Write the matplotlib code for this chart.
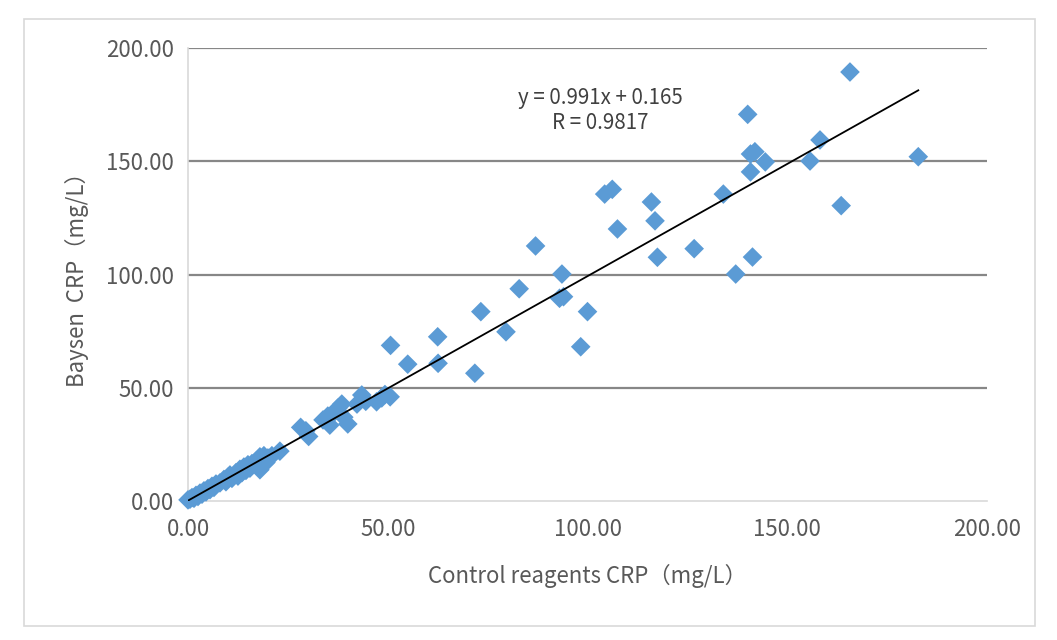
import matplotlib
matplotlib.use("Agg")
import matplotlib.pyplot as plt
from matplotlib.patches import Rectangle
import numpy as np

plt.rcParams['font.family'] = ['Noto Sans CJK SC', 'DejaVu Sans']

# Data (control reagent CRP vs Baysen CRP, mg/L)
control_crp = [
    0.0, 0.5, 1.0, 1.5, 2.0, 2.5, 3.0, 3.5, 4.0, 4.5, 5.0, 5.5, 6.0, 6.5, 7.0, 8.0,
    9.0, 9.5, 10.0, 10.5, 11.0, 12.0, 12.5, 13.0, 13.5, 14.0, 14.5, 15.0, 15.5, 16.0,
    17.0, 17.5, 18.0, 18.0, 18.5, 19.0, 19.5, 20.0, 21.0, 23.0,
    28.2, 29.5, 30.2, 33.8, 35.0, 35.5, 36.5, 37.5, 38.5, 39.0, 40.0, 42.3, 43.5,
    44.5, 47.2, 48.5, 49.3, 50.6,
    50.7, 55.0, 62.5, 62.6, 71.8, 73.3, 79.6, 82.9, 87.0, 93.0, 94.0, 93.6, 98.3,
    100.0, 104.3, 106.2, 107.5, 116.0, 116.9, 117.5, 126.7, 134.0, 137.1, 140.1,
    140.8, 141.9, 140.8, 141.3, 144.5, 155.7, 158.2, 163.5, 165.7, 182.8,
]
baysen_crp = [
    0.5, 0.8, 1.5, 1.2, 2.5, 2.0, 3.5, 3.0, 4.5, 4.0, 5.5, 5.0, 6.5, 6.0, 7.5, 8.0,
    9.5, 8.5, 10.5, 11.5, 10.0, 12.5, 11.0, 14.0, 12.5, 15.0, 13.5, 16.0, 14.5, 16.5,
    17.5, 16.0, 19.5, 13.8, 18.0, 20.0, 17.0, 19.0, 20.0, 22.0,
    32.5, 31.0, 28.5, 35.8, 37.5, 33.5, 39.0, 41.0, 42.8, 37.0, 34.0, 42.8, 46.8,
    44.0, 43.8, 45.5, 47.0, 46.0,
    68.7, 60.4, 72.5, 60.8, 56.4, 83.6, 74.7, 93.7, 112.6, 89.5, 90.2, 100.2, 68.1,
    83.6, 135.5, 137.6, 120.1, 132.0, 123.7, 107.6, 111.4, 135.5, 100.2, 170.7,
    153.2, 154.2, 145.3, 107.7, 149.7, 150.1, 159.4, 130.4, 189.4, 152.0,
]
fit_slope = 0.991
fit_intercept = 0.165
fit_r = 0.9817
ticks = [0, 50, 100, 150, 200]

fig = plt.figure(figsize=(10.57, 6.40), dpi=100)
ax = fig.add_axes([188/1057, 1-501/640, (987-188)/1057, (501-48)/640])

# outer border
fig.patches.append(Rectangle((24/1057, 1-626/640), (1035-24)/1057, (626-19)/640,
                             transform=fig.transFigure, fill=False,
                             edgecolor='#d9d9d9', linewidth=1.2, zorder=0))

ax.set_xlim(0, 200)
ax.set_ylim(0, 200)
ax.set_xticks(ticks)
ax.set_yticks(ticks)
ax.set_xticklabels([f"{t:.2f}" for t in ticks])
ax.set_yticklabels([f"{t:.2f}" for t in ticks])

for t in ticks[1:]:
    ax.axhline(t, color='#878787', linewidth=1.6, zorder=1)

for s in ['top', 'right']:
    ax.spines[s].set_visible(False)
for s in ['left', 'bottom']:
    ax.spines[s].set_color('#d9d9d9')
    ax.spines[s].set_linewidth(1.2)

ax.tick_params(length=0, labelsize=16, colors='#595959')
ax.tick_params(axis='x', pad=12)
ax.tick_params(axis='y', pad=10)

ax.scatter(control_crp, baysen_crp, marker='D', s=100, color='#5b9bd5',
           edgecolors='none', zorder=3, clip_on=False)

xs = np.array([min(control_crp), max(control_crp)])
ax.plot(xs, fit_slope * xs + fit_intercept, color='black', linewidth=1.3, zorder=4)

ax.text(0.5156, 0.862, f"y = {fit_slope}x + {fit_intercept}\nR = {fit_r}",
        transform=ax.transAxes, ha='center', va='center', fontsize=14.8,
        color='#404040', linespacing=1.2)

ax.set_xlabel("Control reagents CRP（mg/L）", fontsize=16, color='#595959', labelpad=17)
ax.set_ylabel("Baysen  CRP（mg/L）", fontsize=16, color='#595959', labelpad=12.5)

fig.savefig("out.png", dpi=100)
